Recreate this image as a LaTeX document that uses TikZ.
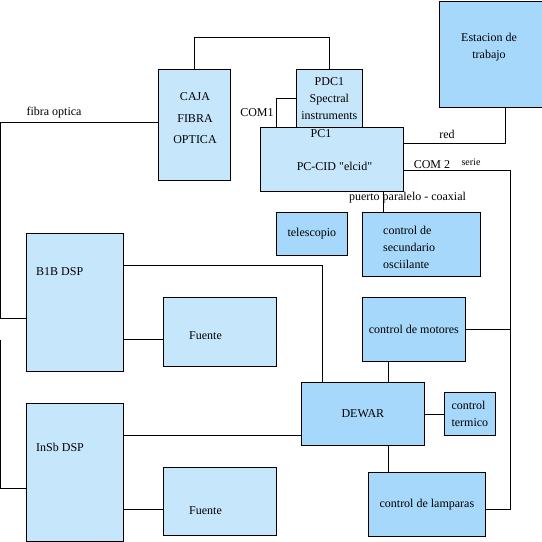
\documentclass[tikz,border=0pt]{standalone}
\usepackage{fontspec}
\setmainfont{Liberation Serif}
\usepackage{tikz}
\usetikzlibrary{positioning}
\definecolor{lightblue}{RGB}{198,230,251}
\definecolor{midblue}{RGB}{166,216,252}

\begin{document}
\begin{tikzpicture}[x=1pt, y=-1pt, box/.style={draw=black, fill=lightblue, line width=0.8pt, anchor=north west, inner sep=0pt, align=center, font=\fontsize{12}{17}\selectfont}, darkbox/.style={box, fill=midblue}, txt/.style={inner sep=0pt, font=\fontsize{12}{17}\selectfont}, smalltxt/.style={inner sep=0pt, font=\fontsize{10}{12}\selectfont}, wire/.style={line width=0.8pt}]

    \useasboundingbox (0,0) rectangle (542,542);

    %Nodes
    \node[box, minimum width=72pt, minimum height=111pt](caja) at (158,69){};
    \node[box, minimum width=143pt, minimum height=64pt](pc) at (260,127){};
    \node[box, minimum width=66pt, minimum height=58pt](pdc) at (296,69){PDC1\\Spectral\\instruments};
    \node[darkbox, minimum width=102.5pt, minimum height=106pt](est) at (439,0.5){};
    \node[darkbox, minimum width=71pt, minimum height=43pt](tel) at (276,212){telescopio};
    \node[darkbox, minimum width=118pt, minimum height=64pt](sec) at (362,212){};
    \node[box, minimum width=97pt, minimum height=138pt](b1b) at (26,233){};
    \node[box, minimum width=113pt, minimum height=69pt](fu1) at (163,297){};
    \node[darkbox, minimum width=103pt, minimum height=64pt](mot) at (362,297){control de motores};
    \node[darkbox, minimum width=123pt, minimum height=63pt](dew) at (301,382){DEWAR};
    \node[darkbox, minimum width=51pt, minimum height=43pt, align=left](ter) at (444,392){control\\termico};
    \node[box, minimum width=97pt, minimum height=138pt](insb) at (26,403){};
    \node[box, minimum width=113pt, minimum height=68pt](fu2) at (163,467){};
    \node[darkbox, minimum width=117pt, minimum height=64pt](lam) at (368,472){control de lamparas};

    %Texts
    \node[txt, align=center, font=\fontsize{12}{21.5}\selectfont](cajatext) at (195,118.5){CAJA\\FIBRA\\OPTICA};
    \node[txt](pc1text) at (321,134){PC1};
    \node[txt](pccidtext) at (334.5,166){PC-CID \textquotedbl elcid\textquotedbl};
    \node[txt, align=center](esttext) at (489,47.5){Estacion de\\trabajo};
    \node[txt, align=left, anchor=west](sectext) at (383,247){control de\\secundario\\osciilante};
    \node[txt, anchor=west](b1btext) at (36,272){B1B DSP};
    \node[txt, anchor=west](insbtext) at (36,447){InSb DSP};
    \node[txt](fu1text) at (205.5,336){Fuente};
    \node[txt](fu2text) at (205.5,511){Fuente};
    \node[txt](fibratext) at (54,113){fibra optica};
    \node[txt](com1text) at (257,113){COM1};
    \node[txt](redtext) at (447,134){red};
    \node[txt](com2text) at (432,165){COM 2};
    \node[smalltxt](serietext) at (471,162){serie};
    \node[txt](puertotext) at (407.5,198){puerto paralelo - coaxial};

    %Helper points
    \coordinate (lft) at (0.5,0);
    \coordinate (insbtop) at (0.5,340);
    \path ([yshift=-85pt]b1b.north west) coordinate (b1bin);
    \path ([yshift=-85pt]insb.north west) coordinate (insbin);
    \path ([yshift=-11pt,xshift=107pt]pc.east) coordinate (bus);
    \path ([xshift=21pt]sec.north west) coordinate (partop);
    \path ([yshift=-7.5pt]fu1.west) coordinate (fu1in);
    \path ([yshift=-8pt]fu2.west) coordinate (fu2in);
    \path ([yshift=-32pt]insb.north east) coordinate (insbout);
    \path ([xshift=26pt]mot.south west) coordinate (motdn);

    %Lines
    \draw[wire] (caja.north) -- ++(0,-32) -| (pdc.north);
    \draw[wire] (pdc.west) -| ([xshift=16pt]pc.north west);
    \draw[wire] ([yshift=-16pt]pc.north east) -| ([xshift=15pt]est.south);
    \draw[wire] ([yshift=-11pt]pc.east) -- (bus) |- ([yshift=-5pt]lam.east);
    \draw[wire] (mot.east) -- (mot.east -| bus);
    \draw[wire] (partop) -- (partop |- pc.south);
    \draw[wire] ([yshift=2.5pt]caja.west) -| (b1bin -| lft) -- (b1bin);
    \draw[wire] (insbtop) |- (insbin);
    \draw[wire] ([yshift=-32pt]b1b.north east) -| ([xshift=21pt]dew.north west);
    \draw[wire] (fu1in) -- (fu1in -| b1b.east);
    \draw[wire] (insbout) -- (insbout -| dew.west);
    \draw[wire] (fu2in) -- (fu2in -| insb.east);
    \draw[wire] (motdn) -- (motdn |- dew.north);
    \draw[wire] (motdn |- dew.south) -- (motdn |- lam.north);
    \draw[wire] (dew.east) -- (ter.west);

\end{tikzpicture}
\end{document}
